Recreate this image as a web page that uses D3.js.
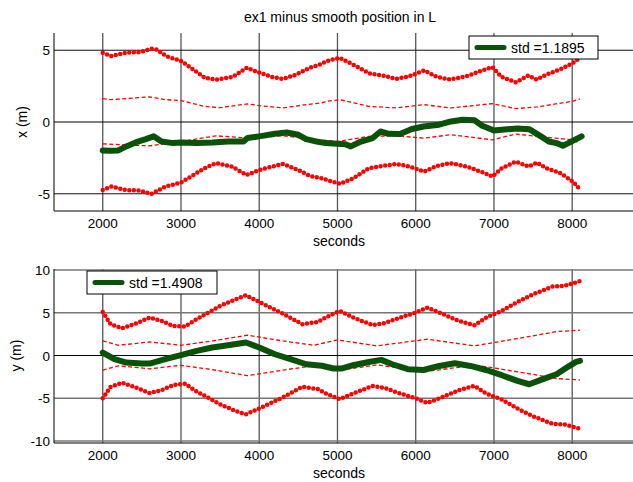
<!DOCTYPE html>
<html>
<head>
<meta charset="utf-8">
<script src="https://cdn.jsdelivr.net/npm/d3@7"></script>
<style>
  body { margin: 0; background: #fff; }
  svg { display: block; font-family: "Liberation Sans", Arial, sans-serif; }
</style>
</head>
<body>
<svg id="chart" width="633" height="482"></svg>
<script>
// [seconds, value] pairs
const xError = [[2000,-1.98],[2100,-2.0],[2200,-1.98],[2300,-1.7],[2450,-1.36],[2550,-1.19],[2650,-1.0],[2750,-1.36],[2900,-1.47],[3000,-1.43],[3200,-1.47],[3400,-1.43],[3600,-1.36],[3800,-1.36],[3850,-1.12],[4000,-1.0],[4200,-0.82],[4350,-0.73],[4500,-0.89],[4600,-1.19],[4750,-1.38],[4850,-1.47],[5000,-1.52],[5100,-1.55],[5170,-1.7],[5300,-1.36],[5450,-1.12],[5550,-0.66],[5650,-0.82],[5800,-0.84],[5950,-0.49],[6100,-0.31],[6300,-0.19],[6450,0.04],[6600,0.16],[6750,0.12],[6850,-0.26],[7000,-0.59],[7100,-0.54],[7300,-0.45],[7450,-0.5],[7600,-1.0],[7700,-1.36],[7800,-1.47],[7880,-1.66],[7950,-1.47],[8050,-1.19],[8120,-1.0]];
const xOuterUp = [[2000,4.83],[2110,4.59],[2300,4.83],[2475,4.87],[2620,5.1],[2685,5.06],[2810,4.59],[3005,4.24],[3155,3.66],[3305,3.08],[3450,2.96],[3665,3.15],[3840,3.78],[4005,3.43],[4175,3.12],[4305,3.0],[4475,3.31],[4645,3.78],[4775,4.0],[4860,4.24],[5030,4.47],[5200,4.0],[5410,3.38],[5580,3.24],[5750,3.0],[5920,3.19],[6110,3.59],[6265,3.15],[6440,2.96],[6650,3.19],[6860,3.61],[6980,3.82],[7095,3.15],[7280,2.77],[7440,3.24],[7545,2.96],[7675,3.31],[7845,3.66],[8015,4.13],[8100,4.47]];
const xOuterLo = [[2000,-4.74],[2110,-4.5],[2300,-4.74],[2475,-4.78],[2620,-5.01],[2800,-4.5],[3000,-4.22],[3300,-3.22],[3450,-2.87],[3650,-3.1],[3840,-3.69],[4000,-3.34],[4300,-2.92],[4500,-3.34],[4650,-3.76],[4800,-3.92],[4860,-4.03],[5030,-4.31],[5200,-3.92],[5400,-3.22],[5580,-3.06],[5750,-2.92],[5920,-3.1],[6110,-3.45],[6270,-3.06],[6440,-2.87],[6650,-3.1],[6860,-3.52],[6980,-3.8],[7100,-3.22],[7280,-2.76],[7440,-3.1],[7550,-2.83],[7670,-3.22],[7850,-3.57],[8010,-4.15],[8100,-4.69]];
const xInnerUp = [[2000,1.63],[2100,1.56],[2300,1.63],[2600,1.75],[2800,1.56],[3000,1.49],[3300,1.09],[3500,1.0],[3850,1.26],[4000,1.14],[4300,0.98],[4600,1.21],[4800,1.33],[4860,1.44],[5030,1.56],[5400,1.09],[5750,0.98],[6100,1.21],[6450,0.98],[6980,1.28],[7280,0.93],[7550,1.05],[8000,1.44],[8100,1.61]];
const xInnerLo = [[2000,-1.52],[2300,-1.6],[2600,-1.66],[3000,-1.36],[3450,-0.96],[3850,-1.12],[4300,-0.96],[4600,-1.15],[5000,-1.36],[5400,-1.0],[5750,-0.96],[6100,-1.12],[6450,-0.89],[6980,-1.24],[7280,-0.84],[7550,-1.0],[8000,-1.24],[8100,-1.47]];

const yError = [[2000,0.35],[2150,-0.43],[2300,-0.82],[2500,-0.94],[2600,-0.94],[2800,-0.43],[3000,0.04],[3200,0.54],[3400,0.94],[3600,1.2],[3830,1.52],[4000,0.94],[4200,0.15],[4400,-0.43],[4600,-1.02],[4800,-1.2],[4950,-1.52],[5050,-1.52],[5200,-1.13],[5400,-0.75],[5560,-0.51],[5700,-1.02],[5900,-1.6],[6100,-1.69],[6300,-1.22],[6500,-0.9],[6700,-1.22],[6900,-1.69],[7100,-2.3],[7300,-2.97],[7450,-3.36],[7600,-2.85],[7800,-2.19],[7950,-1.29],[8050,-0.75],[8100,-0.63]];
const yOuterUp = [[2000,5.1],[2100,3.66],[2250,3.19],[2400,3.66],[2600,4.44],[2750,4.05],[2900,3.46],[3050,3.39],[3200,4.25],[3500,5.8],[3700,6.58],[3830,7.05],[4000,6.27],[4300,4.91],[4550,3.66],[4750,3.93],[4850,4.44],[5030,5.22],[5200,4.44],[5450,3.55],[5600,3.78],[5800,4.44],[6000,5.03],[6150,5.61],[6350,4.83],[6550,4.05],[6750,3.55],[6900,4.44],[7100,5.22],[7300,6.27],[7500,7.17],[7750,8.07],[7900,8.15],[8100,8.7]];
const yOuterLo = [[2000,-5.0],[2100,-3.66],[2250,-3.19],[2400,-3.66],[2600,-4.4],[2750,-4.05],[2900,-3.46],[3050,-3.3],[3200,-4.2],[3500,-5.7],[3700,-6.5],[3830,-6.87],[4000,-6.2],[4300,-4.9],[4550,-3.66],[4750,-3.93],[4850,-4.44],[5030,-5.1],[5200,-4.44],[5450,-3.55],[5600,-3.78],[5800,-4.44],[6000,-5.0],[6150,-5.55],[6350,-4.83],[6550,-4.05],[6750,-3.55],[6900,-4.44],[7100,-5.15],[7300,-6.2],[7500,-7.1],[7750,-8.0],[7900,-8.05],[8100,-8.56]];
const yInnerUp = [[2000,1.71],[2200,1.2],[2600,1.59],[3000,1.2],[3400,1.71],[3850,2.38],[4300,1.71],[4700,1.2],[5000,1.83],[5500,1.13],[6150,1.91],[6750,1.13],[7000,1.52],[7500,2.3],[7800,2.81],[8100,2.96]];
const yInnerLo = [[2000,-1.71],[2200,-1.2],[2600,-1.55],[3000,-1.15],[3400,-1.65],[3850,-2.35],[4300,-1.71],[4700,-1.2],[5000,-1.75],[5500,-1.1],[6150,-1.85],[6750,-1.13],[7000,-1.45],[7500,-2.2],[7800,-2.7],[8100,-2.85]];

const xTicks = [2000, 3000, 4000, 5000, 6000, 7000, 8000];
const topYTicks = [-5, 0, 5];
const botYTicks = [-10, -5, 0, 5, 10];
const topStd = "std =1.1895";
const botStd = "std =1.4908";

const svg = d3.select("#chart");
svg.append("rect").attr("width", 633).attr("height", 482).attr("fill", "#fff");

const x = d3.scaleLinear().domain([1377, 8777]).range([54, 633]);

function panel(cfg) {
  const y = d3.scaleLinear().domain(cfg.yDomain).range([cfg.bottom, cfg.top]);
  const g = svg.append("g");

  // grid
  g.selectAll(".vg").data(xTicks).join("line")
    .attr("x1", d => x(d)).attr("x2", d => x(d))
    .attr("y1", cfg.top).attr("y2", cfg.bottom)
    .attr("stroke", "#555").attr("stroke-width", 1.3);
  g.selectAll(".hg").data(cfg.yTicks).join("line")
    .attr("x1", 54).attr("x2", 633)
    .attr("y1", d => y(d)).attr("y2", d => y(d))
    .attr("stroke", d => d === 0 ? "#000" : cfg.hColor)
    .attr("stroke-width", d => d === 0 ? 1 : cfg.hWidth);

  // axes
  g.append("line").attr("x1", 54).attr("x2", 54).attr("y1", cfg.top).attr("y2", cfg.bottom)
    .attr("stroke", "#000");
  g.append("line").attr("x1", 54).attr("x2", 633).attr("y1", cfg.bottom).attr("y2", cfg.bottom)
    .attr("stroke", "#000");

  g.selectAll(".xt").data(xTicks).join("text")
    .attr("x", d => x(d)).attr("y", cfg.bottom + 17)
    .attr("text-anchor", "middle").attr("font-size", 13.5).text(d => d);
  g.selectAll(".yt").data(cfg.yTicks).join("text")
    .attr("x", 50).attr("y", d => y(d) + 5)
    .attr("text-anchor", "end").attr("font-size", 13.5).text(d => d);

  g.append("text").attr("x", 339).attr("y", cfg.bottom + 35)
    .attr("text-anchor", "middle").attr("font-size", 14).text("seconds");
  g.append("text")
    .attr("transform", `translate(${cfg.labelX},${y(0)}) rotate(-90)`)
    .attr("text-anchor", "middle").attr("font-size", 14).text(cfg.label);

  const line = d3.line().x(d => x(d[0])).y(d => y(d[1]));

  [cfg.innerUp, cfg.innerLo].forEach(s => {
    g.append("path").attr("d", line(s)).attr("fill", "none")
      .attr("stroke", "#ff0000").attr("stroke-width", 1.3).attr("stroke-dasharray", "4 2.5");
  });
  [cfg.outerUp, cfg.outerLo].forEach(s => {
    g.append("path").attr("d", line(s)).attr("fill", "none")
      .attr("stroke", "#ff0000").attr("stroke-width", 4.5)
      .attr("stroke-linecap", "round").attr("stroke-dasharray", "0 4.6");
  });
  g.append("path").attr("d", line(cfg.err)).attr("fill", "none")
    .attr("stroke", "#0a520a").attr("stroke-width", 6)
    .attr("stroke-linejoin", "round").attr("stroke-linecap", "round");

  // legend
  const L = cfg.legend;
  g.append("rect").attr("x", L.x).attr("y", L.y).attr("width", L.w).attr("height", L.h)
    .attr("fill", "#fff").attr("stroke", "#000").attr("stroke-width", 1);
  g.append("line").attr("x1", L.x + 8).attr("x2", L.x + 35)
    .attr("y1", L.y + L.h / 2).attr("y2", L.y + L.h / 2)
    .attr("stroke", "#0a520a").attr("stroke-width", 5).attr("stroke-linecap", "round");
  g.append("text").attr("x", L.x + 42).attr("y", L.y + L.h / 2 + 5)
    .attr("font-size", 14).text(L.text);
}

svg.append("text").attr("x", 340).attr("y", 22).attr("text-anchor", "middle")
  .attr("font-size", 14).text("ex1 minus smooth position in L");

panel({
  top: 33, bottom: 211, yDomain: [-6.2, 6.2], yTicks: topYTicks,
  hColor: "#111", hWidth: 1, label: "x (m)", labelX: 27,
  err: xError, outerUp: xOuterUp, outerLo: xOuterLo, innerUp: xInnerUp, innerLo: xInnerLo,
  legend: { x: 469, y: 36, w: 129, h: 23, text: topStd }
});
panel({
  top: 269, bottom: 443, yDomain: [-10.23, 10.12], yTicks: botYTicks,
  hColor: "#777", hWidth: 1.5, label: "y (m)", labelX: 21,
  err: yError, outerUp: yOuterUp, outerLo: yOuterLo, innerUp: yInnerUp, innerLo: yInnerLo,
  legend: { x: 87, y: 271, w: 130, h: 23, text: botStd }
});
</script>
</body>
</html>
